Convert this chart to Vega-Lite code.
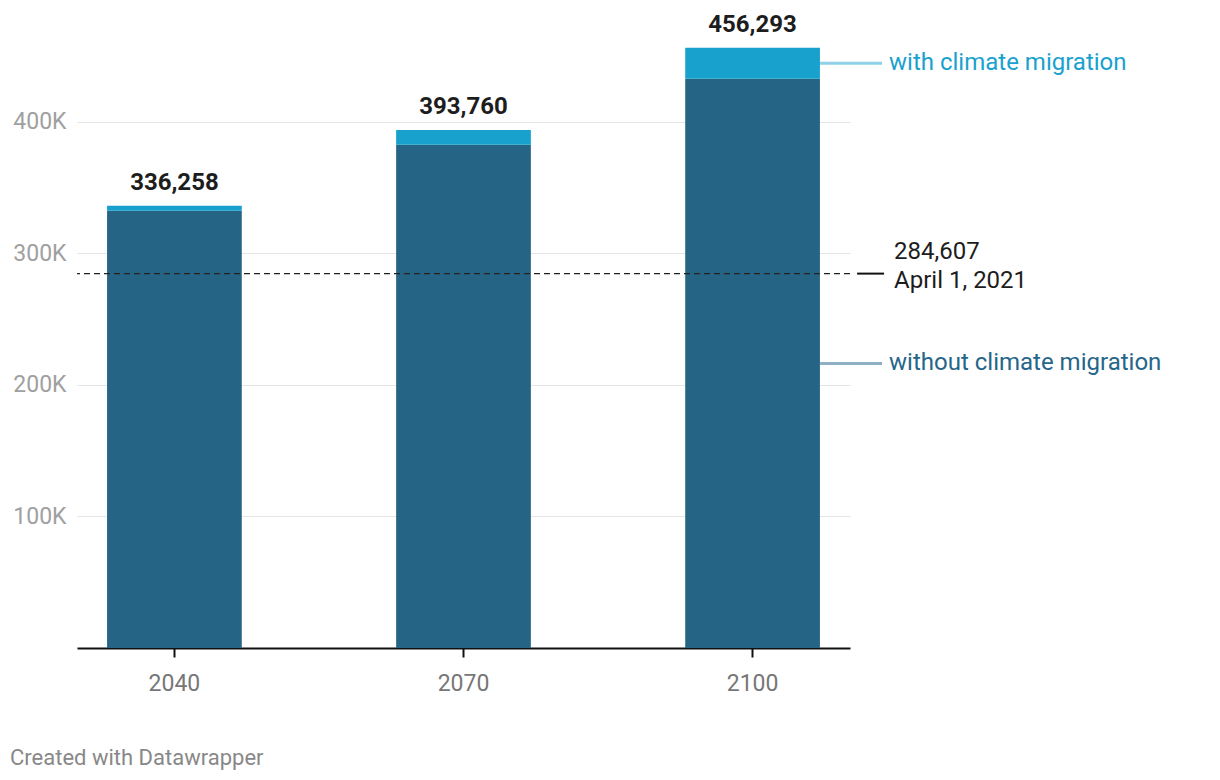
{
  "$schema": "https://vega.github.io/schema/vega-lite/v6.json",
  "width": 773,
  "height": 638,
  "autosize": "none",
  "padding": {"left": 77, "top": 10, "right": 370, "bottom": 132},
  "background": "white",
  "config": {"view": {"stroke": null}, "font": "Roboto"},
  "title": {"text": "Created with Datawrapper", "orient": "bottom", "anchor": "start", "frame": "group", "dx": -67, "offset": 53, "fontSize": 22, "font": "Roboto", "color": "#888888", "fontWeight": "normal"},
  "data": {"values": [
    {"year": "2040", "without": 332300, "total": 336258},
    {"year": "2070", "without": 382500, "total": 393760},
    {"year": "2100", "without": 432700, "total": 456293}
  ]},
  "layer": [
    {"mark": {"type": "bar", "color": "#256484"},
     "encoding": {
       "x": {"field": "year", "type": "nominal", "sort": null,
         "scale": {"domain": ["2040", "2070", "2100"], "paddingInner": 0.534, "paddingOuter": 0.104},
         "axis": {"title": null, "labelAngle": 0, "domainColor": "#111111", "domainWidth": 2, "tickColor": "#111111", "tickWidth": 2, "tickSize": 9, "labelPadding": 15, "labelFontSize": 23, "labelColor": "#777777", "labelFont": "Roboto", "grid": false}},
       "y": {"field": "without", "type": "quantitative", "scale": {"domain": [0, 485000], "nice": false},
       "axis": {"title": null, "values": [100000, 200000, 300000, 400000], "labelExpr": "datum.value/1000 + 'K'", "grid": true, "gridColor": "#e5e5e5", "gridWidth": 1, "domain": false, "ticks": false, "labelPadding": 11, "labelFontSize": 23, "labelColor": "#a0a0a0", "labelFont": "Roboto"}}}},
    {"mark": {"type": "bar", "color": "#18a1cd"},
     "encoding": {"x": {"field": "year", "type": "nominal"}, "y": {"field": "without", "type": "quantitative"}, "y2": {"field": "total"}}},
    {"mark": {"type": "text", "dy": -23, "fontSize": 24, "fontWeight": "bold", "color": "#1d1d1d", "font": "Roboto", "baseline": "middle"},
     "encoding": {"x": {"field": "year", "type": "nominal"}, "y": {"field": "total", "type": "quantitative"}, "text": {"field": "total", "type": "quantitative", "format": ","}}},
    {"data": {"values": [{"ref": 284607, "date": "April 1, 2021"}]},
     "layer": [
       {"mark": {"type": "rule", "color": "#222222", "strokeWidth": 1.4, "strokeDash": [6, 4]},
        "encoding": {"y": {"field": "ref", "type": "quantitative"}}},
       {"mark": {"type": "tick", "color": "#111111", "opacity": 1, "thickness": 2, "size": 27, "orient": "horizontal", "xOffset": 118},
        "encoding": {"x": {"datum": "2100", "type": "nominal"}, "y": {"field": "ref", "type": "quantitative"}}},
       {"mark": {"type": "text", "align": "left", "baseline": "middle", "dx": 141.5, "dy": -22, "fontSize": 24, "color": "#1d1d1d", "font": "Roboto"},
        "encoding": {"x": {"datum": "2100", "type": "nominal"}, "y": {"field": "ref", "type": "quantitative"}, "text": {"field": "ref", "type": "quantitative", "format": ","}}},
       {"mark": {"type": "text", "align": "left", "baseline": "middle", "dx": 141.5, "dy": 7, "fontSize": 24, "color": "#1d1d1d", "font": "Roboto"},
        "encoding": {"x": {"datum": "2100", "type": "nominal"}, "y": {"field": "ref", "type": "quantitative"}, "text": {"field": "date", "type": "nominal"}}}
     ]},
    {"transform": [
       {"filter": "datum.year == '2100'"},
       {"calculate": "(datum.without + datum.total) / 2", "as": "mid_with"},
       {"calculate": "datum.without / 2", "as": "mid_without"}
     ],
     "layer": [
       {"mark": {"type": "tick", "color": "#8fd0e6", "opacity": 1, "thickness": 3, "size": 62, "orient": "horizontal", "xOffset": 98.5},
        "encoding": {"x": {"field": "year", "type": "nominal"}, "y": {"field": "mid_with", "type": "quantitative"}}},
       {"mark": {"type": "tick", "color": "#8fb0c4", "opacity": 1, "thickness": 3, "size": 62, "orient": "horizontal", "xOffset": 98.5},
        "encoding": {"x": {"field": "year", "type": "nominal"}, "y": {"field": "mid_without", "type": "quantitative"}}},
       {"mark": {"type": "text", "align": "left", "baseline": "middle", "dx": 136.5, "fontSize": 24, "color": "#1aa1cf", "font": "Roboto"},
        "encoding": {"x": {"field": "year", "type": "nominal"}, "y": {"field": "mid_with", "type": "quantitative"}, "text": {"value": "with climate migration"}}},
       {"mark": {"type": "text", "align": "left", "baseline": "middle", "dx": 136.5, "fontSize": 24, "color": "#25668a", "font": "Roboto"},
        "encoding": {"x": {"field": "year", "type": "nominal"}, "y": {"field": "mid_without", "type": "quantitative"}, "text": {"value": "without climate migration"}}}
     ]}
  ]
}
